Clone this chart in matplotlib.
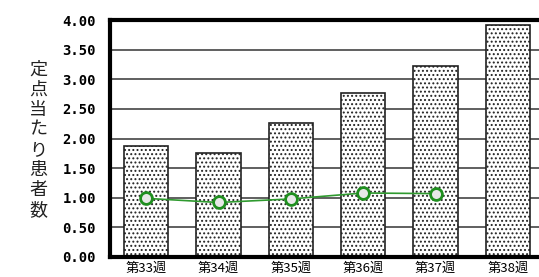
import matplotlib.pyplot as plt
import numpy as np

weeks = ["第33週", "第34週", "第35週", "第36週", "第37週", "第38週"]
bar_values = [1.87, 1.76, 2.27, 2.77, 3.23, 3.92]
line_values = [0.99, 0.92, 0.98, 1.08, 1.07]
yticks = [0.0, 0.5, 1.0, 1.5, 2.0, 2.5, 3.0, 3.5, 4.0]

plt.rcParams['font.family'] = ['Noto Sans CJK JP', 'DejaVu Sans']
plt.rcParams['hatch.linewidth'] = 0.9

fig = plt.figure(figsize=(5.39, 2.77), dpi=100)
ax = fig.add_axes([110 / 539, 20 / 277, 434 / 539, 237 / 277])

x = np.arange(len(weeks))
ax.set_axisbelow(True)
ax.yaxis.grid(True, color="#444444", linewidth=1.2)
ax.bar(x, bar_values, width=0.61, color="white", edgecolor="#222222",
       linewidth=1.2, hatch="....", zorder=2)
ax.plot(x[:len(line_values)], line_values, color="#2f9a2f", linewidth=1.2,
        marker="o", markersize=8.5, markerfacecolor="#e8e8e8",
        markeredgecolor="#1f8f1f", markeredgewidth=2, zorder=3)

ax.set_xlim(-0.5, len(weeks) - 0.5)
ax.set_ylim(0, 4.0)
ax.set_yticks(yticks)
ax.set_yticklabels([f"{v:.2f}" for v in yticks], family="DejaVu Sans Mono",
                   fontsize=10, fontweight="bold")
ax.set_xticks(x)
ax.set_xticklabels(weeks, fontsize=9.5)
ax.tick_params(axis="x", length=0, pad=3.5)
ax.tick_params(axis="y", length=0, pad=10)

for side in ["left", "top", "bottom"]:
    ax.spines[side].set_linewidth(3)
    ax.spines[side].set_color("black")
ax.spines["right"].set_visible(False)

fig.text(38 / 539, 0.495, "\n".join("定点当たり患者数"), ha="center", va="center",
         fontsize=13, linespacing=1.15, color="#222222")

fig.savefig("out.png", dpi=100)
